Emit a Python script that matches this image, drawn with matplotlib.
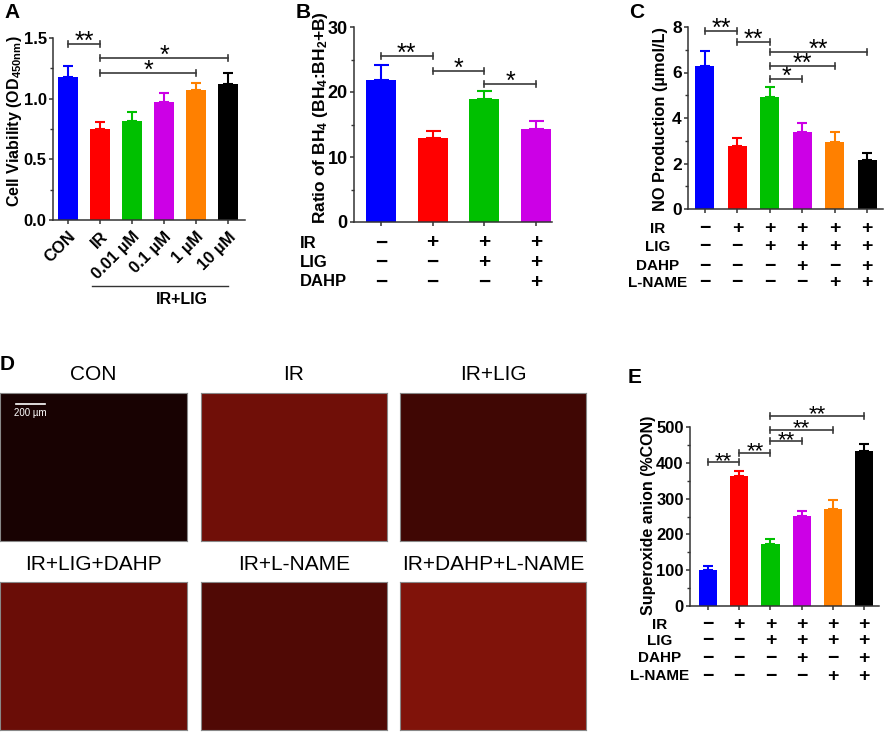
import numpy as np
import matplotlib
matplotlib.use("Agg")
import matplotlib.pyplot as plt
import matplotlib.transforms as mtransforms

plt.rcParams['font.family'] = ['Liberation Sans', 'DejaVu Sans']
plt.rcParams['font.weight'] = 'bold'
plt.rcParams['mathtext.fontset'] = 'custom'
plt.rcParams['mathtext.bf'] = 'Liberation Sans:bold'
plt.rcParams['mathtext.rm'] = 'Liberation Sans:bold'
plt.rcParams['mathtext.default'] = 'bf'

W, H = 886, 732

# ---- data ----
cols6 = ['#0000ff', '#ff0000', '#00c000', '#cc00e6', '#ff8000', '#000000']

a_labels = ['CON', 'IR', '0.01 µM', '0.1 µM', '1 µM', '10 µM']
a_mean = [1.18, 0.75, 0.82, 0.97, 1.07, 1.12]
a_sem = [0.09, 0.06, 0.07, 0.08, 0.06, 0.09]
a_sig = [(0, 1, 1.45, '**'), (1, 5, 1.335, '*'), (1, 4, 1.21, '*')]

b_mean = [21.8, 12.9, 18.9, 14.3]
b_sem = [2.3, 1.1, 1.3, 1.3]
b_sig = [(0, 1, 25.5, '**'), (1, 2, 23.2, '*'), (2, 3, 21.2, '*')]
b_rows = ['IR', 'LIG', 'DAHP']
b_signs = ['-+++', '--++', '---+']

c_mean = [6.29, 2.79, 4.92, 3.40, 2.96, 2.16]
c_sem = [0.64, 0.32, 0.45, 0.40, 0.43, 0.29]
c_sig = [(0, 1, 7.82, '**'), (1, 2, 7.34, '**'), (2, 5, 6.88, '**'),
         (2, 4, 6.28, '**'), (2, 3, 5.71, '*')]

e_mean = [100, 363, 173, 251, 271, 433]
e_sem = [11, 15, 15, 15, 25, 20]
e_sig = [(0, 1, 401, '**'), (1, 2, 428, '**'), (2, 3, 460, '**'),
         (2, 4, 493, '**'), (2, 5, 532, '**')]

ce_rows = ['IR', 'LIG', 'DAHP', 'L-NAME']
ce_signs = ['-+++++', '--++++', '---+-+', '----++']

d_titles = ['CON', 'IR', 'IR+LIG', 'IR+LIG+DAHP', 'IR+L-NAME', 'IR+DAHP+L-NAME']
# mean fluorescence colour of each micrograph (R, G, B)
d_colors = [(24, 2, 2), (112, 15, 8), (64, 7, 4), (106, 13, 7), (80, 9, 5), (128, 19, 10)]


def box(l, t, r, b):
    return [l / W, 1 - b / H, (r - l) / W, (b - t) / H]


fig = plt.figure(figsize=(W / 100, H / 100), dpi=100)


def bar_panel(ax, means, sems, width, cap, xlim, ylim, yticks, yticklabels, fs):
    x = np.arange(len(means))
    ax.bar(x, means, width, color=cols6[:len(means)], zorder=2)
    for xi, m, s, c in zip(x, means, sems, cols6):
        ax.errorbar(xi, m, yerr=[[0], [s]], color=c, capsize=cap,
                    elinewidth=1.5, capthick=1.5, zorder=3)
    ax.set_xlim(*xlim)
    ax.set_ylim(*ylim)
    ax.set_yticks(yticks)
    ax.set_yticklabels(yticklabels, fontsize=fs, fontweight='bold')
    ax.set_yticks([(yticks[i] + yticks[i + 1]) / 2 for i in range(len(yticks) - 1)], minor=True)
    ax.set_xticks(x)
    for s in ['top', 'right']:
        ax.spines[s].set_visible(False)
    for s in ['left', 'bottom']:
        ax.spines[s].set_linewidth(1.1)
        ax.spines[s].set_color('#333333')
    ax.tick_params(axis='y', which='major', length=3, width=1.1, pad=1.5, color='#333333')
    ax.tick_params(axis='y', which='minor', length=2, width=1.0, color='#333333')
    ax.tick_params(axis='x', length=3, width=1.1, color='#333333')


def brackets(ax, sigs, axh_px, ymax, fs=18):
    d = 3.0 * ymax / axh_px
    for i, j, y, txt in sigs:
        ax.plot([i, j], [y, y], color='#3a3a3a', lw=1.2, clip_on=False, zorder=4)
        for xx in (i, j):
            ax.plot([xx, xx], [y - d, y + d], color='#3a3a3a', lw=1.2, clip_on=False, zorder=4)
        ax.text((i + j) / 2, y - 1.6 * d, txt, ha='center', va='baseline',
                fontsize=fs, fontweight='normal', clip_on=False)


def sign_table(ax, rows, signs, row_y, label_x, label_ha, fs):
    tr = mtransforms.blended_transform_factory(ax.transData, fig.transFigure)
    for r, sg, yp in zip(rows, signs, row_y):
        fig.text(label_x / W, 1 - yp / H, r, ha=label_ha, va='center',
                 fontsize=fs, fontweight='bold')
        for k, ch in enumerate(sg):
            ax.text(k, 1 - yp / H, '+' if ch == '+' else '\u2212', transform=tr,
                    ha='center', va='center', fontsize=fs + 3, fontweight='bold')


# ---- Panel A ----
axA = fig.add_axes(box(53, 38, 245, 220))
bar_panel(axA, a_mean, a_sem, 0.6, 3.5, (-0.47, 5.53), (0, 1.5),
          [0, 0.5, 1.0, 1.5], ['0.0', '0.5', '1.0', '1.5'], 12)
axA.set_xticklabels(a_labels, rotation=45, ha='right', rotation_mode='anchor',
                    fontsize=12, fontweight='bold')
brackets(axA, a_sig, 182, 1.5)
fig.text(15 / W, 1 - 121 / H, 'Cell Viability (OD$_{450nm}$)', rotation=90,
         ha='center', va='center', fontsize=11.5)
trA = mtransforms.blended_transform_factory(axA.transData, fig.transFigure)
axA.plot([0.75, 5.0], [1 - 286 / H, 1 - 286 / H], transform=trA, color='#333333',
         lw=1.0, clip_on=False)
fig.text(182 / W, 1 - 300 / H, 'IR+LIG', ha='center', va='center', fontsize=11.5)

# ---- Panel B ----
axB = fig.add_axes(box(354, 27, 552, 222))
bar_panel(axB, b_mean, b_sem, 0.58, 5.4, (-0.52, 3.31), (0, 30),
          [0, 10, 20, 30], ['0', '10', '20', '30'], 13)
axB.set_xticklabels([])
brackets(axB, b_sig, 195, 30)
fig.text(320 / W, 1 - 118 / H, 'Ratio of BH$_4$ (BH$_4$:BH$_2$+B)', rotation=90,
         ha='center', va='center', fontsize=12.5)
sign_table(axB, b_rows, b_signs, [243, 262, 282], 300, 'left', 12)

# ---- Panel C ----
axC = fig.add_axes(box(688, 27, 883, 209))
bar_panel(axC, c_mean, c_sem, 0.59, 3.5, (-0.52, 5.49), (0, 8),
          [0, 2, 4, 6, 8], ['0', '2', '4', '6', '8'], 12.5)
axC.set_xticklabels([])
brackets(axC, c_sig, 182, 8)
fig.text(661 / W, 1 - 119 / H, 'NO Production (µmol/L)', rotation=90,
         ha='center', va='center', fontsize=11.8)
sign_table(axC, ce_rows, ce_signs, [229, 247, 266, 283], 658, 'center', 11)

# ---- Panel E ----
axE = fig.add_axes(box(690, 427, 879, 606))
bar_panel(axE, e_mean, e_sem, 0.58, 3.3, (-0.58, 5.48), (0, 500),
          [0, 100, 200, 300, 400, 500], ['0', '100', '200', '300', '400', '500'], 12)
axE.set_xticklabels([])
brackets(axE, e_sig, 179, 500, fs=16)
fig.text(648 / W, 1 - 515 / H, 'Superoxide anion (%CON)', rotation=90,
         ha='center', va='center', fontsize=11.5)
sign_table(axE, ce_rows, ce_signs, [625, 641, 658, 676], 660, 'center', 11)

# ---- Panel D (micrographs) ----
img_x = [(0, 187), (201, 387), (400, 586)]
img_y = [(393, 541), (582, 730)]
title_y = [375, 565]
for k, (title, col) in enumerate(zip(d_titles, d_colors)):
    r, c = divmod(k, 3)
    (l, rr), (t, b) = img_x[c], img_y[r]
    ax = fig.add_axes(box(l, t, rr, b))
    ax.imshow(np.array([[col]], dtype=np.uint8), aspect='auto')
    ax.set_xticks([])
    ax.set_yticks([])
    for s in ax.spines.values():
        s.set_color('#888888')
        s.set_linewidth(0.8)
    fig.text((l + rr) / 2 / W, 1 - title_y[r] / H, title, ha='center', va='center',
             fontsize=15, fontweight='normal')
# scale bar on the CON image
fig.add_artist(plt.Line2D([16 / W, 45 / W], [1 - 404 / H, 1 - 404 / H], color='white', lw=1.2))
fig.text(14 / W, 1 - 413 / H, '200 µm', color='white', fontsize=7, fontweight='normal',
         ha='left', va='center')

# ---- panel letters ----
for letter, xp, yp in [('A', 4, 3), ('B', 296, 3), ('C', 629, 3), ('D', 0, 355), ('E', 628, 368)]:
    fig.text(xp / W, 1 - yp / H, letter, ha='left', va='top', fontsize=15, fontweight='bold')

fig.savefig('out.png', dpi=100)
